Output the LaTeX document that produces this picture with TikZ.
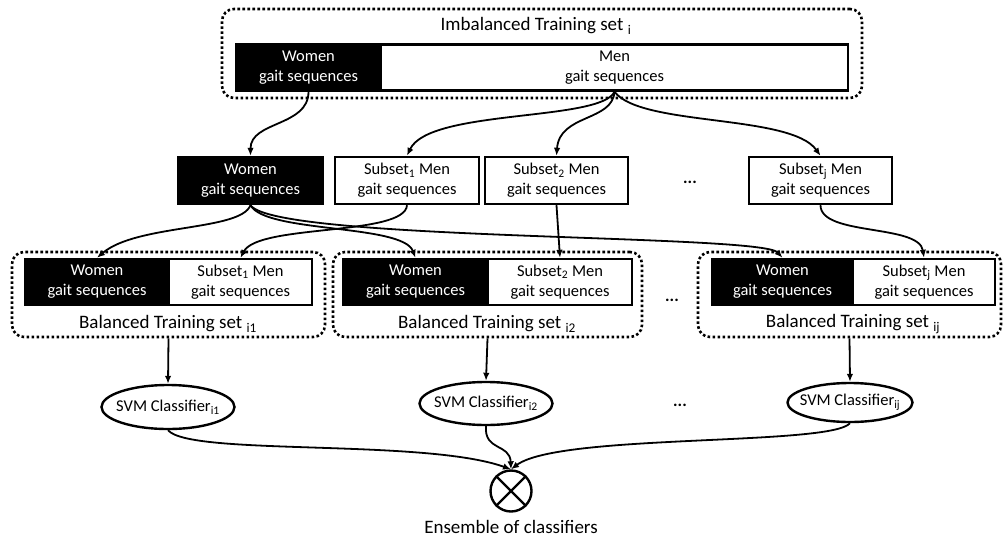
\documentclass[tikz,border=0pt]{standalone}
\usepackage{fontspec}
\setmainfont{Carlito}
\usetikzlibrary{arrows.meta,shapes.geometric}
\begin{document}
\begin{tikzpicture}[x=1pt,y=1pt,
  box/.style={draw, line width=2.4pt, minimum height=46pt, inner sep=0pt, align=center, font=\fontsize{16.5}{20}\selectfont},
  wbox/.style={box, fill=black, text=white},
  mbox/.style={box, fill=white},
  frame/.style={draw, line width=2.6pt, dash pattern=on 2.6pt off 2.4pt, rounded corners=12pt, inner sep=0pt},
  conn/.style={line width=1.8pt, -{Latex[length=8pt,width=6.5pt]}},
  lbl/.style={font=\fontsize{19}{22}\selectfont, inner sep=0pt},
  svm/.style={draw, ellipse, line width=2.4pt, inner sep=0pt, font=\fontsize{16.5}{20}\selectfont},
  dotsl/.style={font=\fontsize{17}{20}\selectfont\bfseries, inner sep=0pt}
]
\useasboundingbox (0,0) rectangle (1003,-541);

% top imbalanced set
\node[frame, minimum width=640pt, minimum height=89pt] (T) at (542,-53.5) {};
\node[lbl] (Tl) at (536,-26) {Imbalanced Training set \textsubscript{i}};
\node[wbox, minimum width=145pt] (wA) at (308.5,-67.5) {Women\\gait sequences};
\node[mbox, minimum width=467pt] (mA) at (614.5,-67.5) {Men\\gait sequences};

% middle row
\node[wbox, minimum width=145pt, minimum height=47pt] (wM) at (250.5,-180.5) {Women\\gait sequences};
\node[mbox, minimum width=144pt, minimum height=47pt] (s1) at (407,-180.5) {Subset\textsubscript{1} Men\\gait sequences};
\node[mbox, minimum width=143pt, minimum height=47pt] (s2) at (556.5,-180.5) {Subset\textsubscript{2} Men\\gait sequences};
\node[dotsl] (d1) at (690,-182) {...};
\node[mbox, minimum width=143pt, minimum height=47pt] (sj) at (820.5,-180.5) {Subset\textsubscript{j} Men\\gait sequences};

% balanced sets
\node[frame, minimum width=313pt, minimum height=85pt] (F1) at (168.5,-294.5) {};
\node[wbox, minimum width=144pt] (b1w) at (97,-282) {Women\\gait sequences};
\node[mbox, minimum width=143pt] (b1m) at (240.5,-282) {Subset\textsubscript{1} Men\\gait sequences};
\node[lbl] (L1) at (168,-324) {Balanced Training set \textsubscript{i1}};

\node[frame, minimum width=309pt, minimum height=85pt] (F2) at (487.5,-294.5) {};
\node[wbox, minimum width=145pt] (b2w) at (415.5,-282) {Women\\gait sequences};
\node[mbox, minimum width=144pt] (b2m) at (560,-282) {Subset\textsubscript{2} Men\\gait sequences};
\node[lbl] (L2) at (487,-324) {Balanced Training set \textsubscript{i2}};

\node[dotsl] (d2) at (672,-300) {...};

\node[frame, minimum width=303pt, minimum height=85pt] (F3) at (849.5,-294.5) {};
\node[wbox, minimum width=141pt] (b3w) at (782.5,-282) {Women\\gait sequences};
\node[mbox, minimum width=142pt] (b3m) at (924,-282) {Subset\textsubscript{j} Men\\gait sequences};
\node[lbl] (L3) at (853,-324) {Balanced Training set \textsubscript{ij}};

% classifiers
\node[svm, minimum width=133pt, minimum height=44pt] (c1) at (168,-407) {\makebox[0pt]{SVM Classifier\textsubscript{i1}}};
\node[svm, minimum width=133pt, minimum height=43pt] (c2) at (486,-403.5) {\makebox[0pt]{SVM Classifier\textsubscript{i2}}};
\node[dotsl] (d3) at (680,-405) {...};
\node[svm, minimum width=125pt, minimum height=39pt] (cj) at (850,-402.5) {\makebox[0pt]{SVM Classifier\textsubscript{ij}}};

% ensemble
\node[draw, circle, line width=2.4pt, minimum size=41pt, inner sep=0pt] (E) at (511,-491) {};
\draw[line width=2.4pt] (E.45) -- (E.225) (E.135) -- (E.-45);
\node[lbl] (EL) at (511,-527) {Ensemble of classifiers};

% connectors top
\draw[conn] (wA.south) .. controls +(0,-35) and +(0,35) .. (wM.north);
\draw[conn] (mA.south) .. controls +(-14,-30) and +(22,47) .. (s1.north);
\draw[conn] (mA.south) .. controls +(-2,-30) and +(3,42) .. (s2.north);
\draw[conn] (mA.south) .. controls +(26,-35) and +(-30,42) .. (sj.north);

% connectors middle
\draw[conn] (wM.south) .. controls +(-10,-26) and +(40,34) .. (b1w.north);
\draw[conn] (wM.south) .. controls +(15,-28) and +(-13,34) .. (b2w.north);
\draw[conn] (wM.south) .. controls +(25,-36) and +(-22,24) .. (b3w.north);
\draw[conn] (s1.south) .. controls +(-2,-31) and +(18,34) .. (b1m.north);
\draw[conn] (s2.south) -- (b2m.north);
\draw[conn] (sj.south) .. controls +(0,-31) and +(-5,34) .. (b3m.north);

% to classifiers
\draw[conn] (F1.south) -- (c1.north);
\draw[conn] (F2.south) -- (c2.north);
\draw[conn] (F3.south) -- (cj.north);

% to ensemble
\draw[conn] (c1.south) .. controls +(22,-26) and +(-87,31) .. (E.north);
\draw[conn] (c2.south) .. controls +(-2,-25) and +(-1,26) .. (E.north);
\draw[conn] (cj.south) .. controls +(-20,-23) and +(48,36) .. (E.north);
\end{tikzpicture}
\end{document}
